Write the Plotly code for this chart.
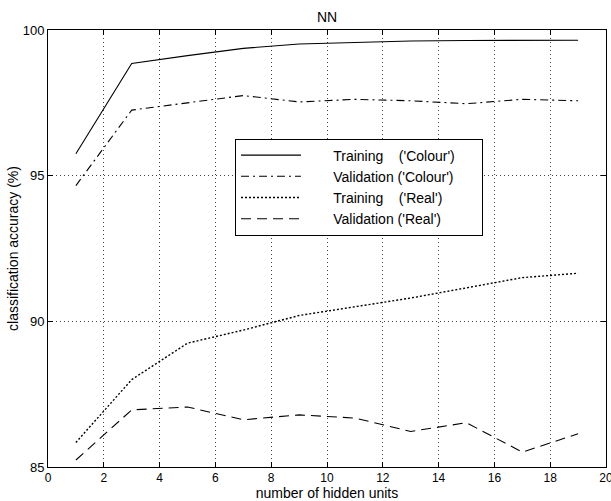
import plotly.graph_objects as go

hidden_units = [1, 3, 5, 7, 9, 11, 13, 15, 17, 19]
train_colour = [95.75, 98.85, 99.12, 99.37, 99.52, 99.58, 99.62, 99.64, 99.65, 99.65]
valid_colour = [94.66, 97.25, 97.50, 97.75, 97.53, 97.62, 97.57, 97.47, 97.62, 97.57]
train_real = [85.84, 88.00, 89.25, 89.70, 90.20, 90.50, 90.80, 91.15, 91.50, 91.65]
valid_real = [85.24, 86.96, 87.06, 86.62, 86.79, 86.68, 86.22, 86.52, 85.51, 86.14]

NB = "\u00a0"
LEAD = NB * 7
series_names = [
    LEAD + "Training" + NB * 3 + " ('Colour')",
    LEAD + "Validation ('Colour')" + NB * 6,
    LEAD + "Training" + NB * 3 + " ('Real')",
    LEAD + "Validation ('Real')",
]
x_ticks = list(range(0, 21, 2))
y_ticks = [85, 90, 95, 100]

FONT = "Liberation Sans, Arial, Helvetica, sans-serif"

line_dashes = ["solid", "8px,4px,2px,4px", "2px,2px", "10px,6px"]
line_widths = [1.1, 1.1, 1.4, 1.1]

fig = go.Figure()
for ys, name, dash, lw in zip([train_colour, valid_colour, train_real, valid_real],
                              series_names, line_dashes, line_widths):
    fig.add_trace(go.Scatter(
        x=hidden_units, y=ys, mode="lines", name=name,
        line=dict(color="black", width=lw, dash=dash),
    ))

axis_common = dict(
    showline=True, linecolor="black", linewidth=1, mirror="ticks",
    ticks="inside", ticklen=5, tickcolor="black",
    showgrid=True, gridcolor="#444", griddash="1px,3px", gridwidth=1,
    zeroline=False,
    ticklabeloverflow="allow", automargin=False,
)

fig.update_layout(
    width=611, height=501,
    margin=dict(l=48, r=5, t=30, b=34, autoexpand=False),
    paper_bgcolor="white", plot_bgcolor="white",
    font=dict(family=FONT, color="black"),
    title=dict(text="NN", x=0.5, xref="paper", y=1 - 17.5 / 501, yanchor="middle",
               font=dict(family=FONT, size=14, color="black")),
    xaxis=dict(range=[0, 20], tickvals=x_ticks, ticktext=[str(v) for v in x_ticks],
               tickfont=dict(family=FONT, size=12, color="black"),
               title=dict(text="number of hidden units", standoff=2,
                          font=dict(family=FONT, size=14, color="black")),
               **axis_common),
    yaxis=dict(range=[85, 100], tickvals=y_ticks, ticktext=[str(v) for v in y_ticks],
               tickfont=dict(family=FONT, size=13, color="black"),
               title=dict(text="classification accuracy (%)", standoff=0,
                          font=dict(family=FONT, size=14, color="black")),
               **axis_common),
    legend=dict(x=(235 - 48) / 558, y=(467 - 187) / 437, xanchor="left", yanchor="middle",
                bgcolor="white", bordercolor="black", borderwidth=1,
                font=dict(family=FONT, size=14, color="black"),
                itemwidth=60, tracegroupgap=0),
    showlegend=True,
)

fig.write_html("out.html", config={"displayModeBar": False},
               post_script="document.body.style.margin='0';document.body.style.overflow='hidden';")
